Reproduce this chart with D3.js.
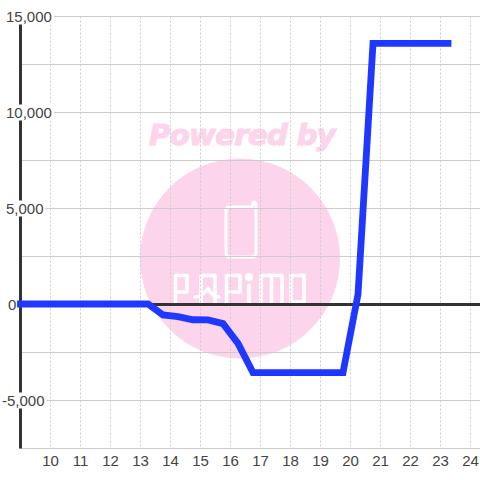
<!DOCTYPE html>
<html><head><meta charset="utf-8">
<script src="https://cdnjs.cloudflare.com/ajax/libs/d3/7.8.5/d3.min.js"></script>
<style>html,body{margin:0;padding:0;background:#fff}svg{display:block}text{font-family:"Liberation Sans",Arial,sans-serif}</style>
</head><body><div id="c"></div>
<script>
const xTicks=[10,11,12,13,14,15,16,17,18,19,20,21,22,23,24];
const yLabelled=[15000,10000,5000,0,-5000];
const yMinor=[12500,7500,2500,-2500,-7500];
const hours=[9,13.25,13.75,14.25,14.75,15.25,15.75,16.25,16.75,19.75,20.25,20.75,23.25];
const profit=[0,0,-570,-660,-820,-830,-1020,-2050,-3570,-3570,500,13570,13570];
const labelLeft={"15000":6,"10000":6,"5000":6,"0":8,"-5000":2};
const W=480,H=480;
const x=d3.scaleLinear().domain([9,24]).range([20.5,470.5]);
const y=d3.scaleLinear().domain([15000,-7500]).range([16.5,448.5]);
const svg=d3.select("#c").append("svg").attr("width",W).attr("height",H);
// watermark
const wm=svg.append("g");
wm.append("circle").attr("cx",240).attr("cy",258.5).attr("r",100).attr("fill","#fcd5ec");
wm.append("text").attr("x",149).attr("y",145).text("Powered by").attr("fill","#fcd5ec").attr("stroke","#fcd5ec").attr("stroke-width",1.2)
  .style("font-family","'DejaVu Sans'").style("font-weight","bold").style("font-style","italic").style("font-size","29px").style("letter-spacing","-0.6px");
const wp=wm.append("g").attr("fill","none").attr("stroke","#fff").attr("stroke-width",3).attr("stroke-linejoin","round").attr("stroke-linecap","round");
wp.append("path").attr("d","M253 202.5 Q256 201 256 205 V253 Q256 257 252 257 H230 Q226 257 226 253 V211 Q226 207 230 207 H250 Q253 207 253 204");
wp.selectAll("path.l").data([
 "M175.5 303 V275.5 H187 V292 H175.5",
 "M201 303 V275.5 H215 V303 M195 297 Q203 297 208 288 Q212 297 219 297",
 "M226.5 303 V275.5 H240 V292 H226.5",
 "M249 285 V303",
 "M261 303 V275.5 H282 V303 M271.5 275.5 V303",
 "M291 275.5 H304 V302 H291 Z"
]).join("path").attr("class","l").attr("d",d=>d).attr("stroke-width",3.6);
wp.append("circle").attr("cx",249).attr("cy",277).attr("r",2.5).attr("fill","#fff");
// grid
const g=svg.append("g");
g.selectAll("line.v").data(xTicks).join("line").attr("class","v")
 .attr("x1",d=>x(d)).attr("x2",d=>x(d)).attr("y1",y(15000)).attr("y2",y(-7500))
 .attr("stroke","#ccc").attr("stroke-dasharray","2 2");
g.selectAll("line.h").data(yLabelled.concat(yMinor).filter(d=>d!==0)).join("line").attr("class","h")
 .attr("x1",20).attr("x2",W).attr("y1",d=>y(d)).attr("y2",d=>y(d)).attr("stroke","#ccc");
// zero line and left axis
svg.append("line").attr("x1",20).attr("x2",W).attr("y1",y(0)).attr("y2",y(0)).attr("stroke","#333").attr("stroke-width",3);
svg.append("line").attr("x1",x(9)).attr("x2",x(9)).attr("y1",y(15000)).attr("y2",y(-7500)).attr("stroke","#333").attr("stroke-width",3);
// y labels
const yl=svg.append("g").selectAll("g").data(yLabelled).join("g");
yl.append("text").attr("x",d=>labelLeft[d]).attr("y",d=>y(d)+5.5).attr("fill","#444").style("font-size","15px")
 .text(d=>d3.format(",")(d).replace("\u2212","-"));
yl.insert("rect","text").each(function(d){
  const b=this.parentNode.querySelector("text").getBBox();
  d3.select(this).attr("x",b.x-1).attr("y",y(d)-8).attr("width",b.width+3).attr("height",16).attr("fill","#fff");
});
// x labels
svg.append("g").selectAll("text").data(xTicks).join("text").attr("x",d=>x(d)).attr("y",466).attr("text-anchor","middle")
 .attr("fill","#444").style("font-size","15px").text(d=>d);
// line
const line=d3.line().x((d,i)=>x(hours[i])).y(d=>y(d));
svg.append("path").datum(profit).attr("d",line).attr("transform","translate(0,-0.5)").attr("fill","none").attr("stroke","#1e38ff").attr("stroke-width",6.8).attr("stroke-linecap","square").attr("stroke-linejoin","miter");
</script></body></html>
